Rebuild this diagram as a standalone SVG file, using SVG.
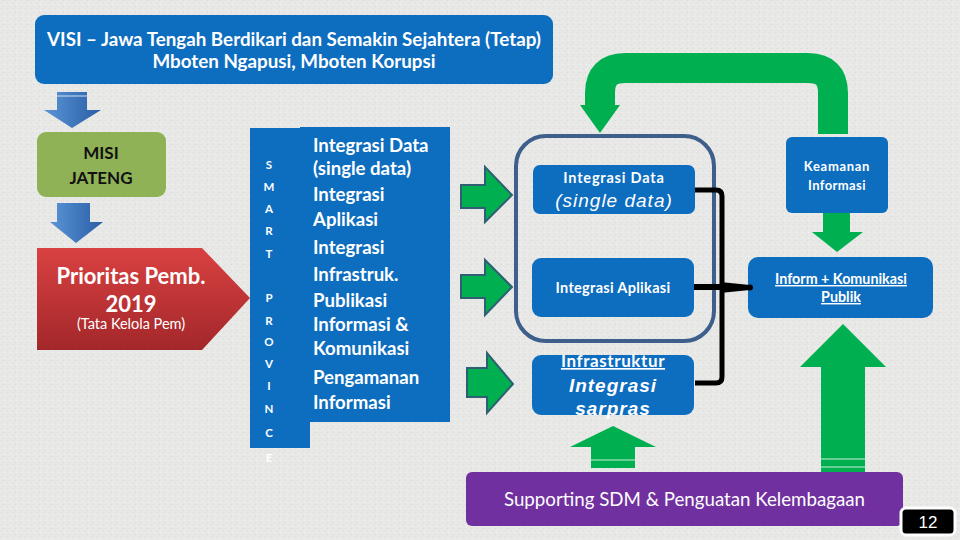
<svg xmlns="http://www.w3.org/2000/svg" width="960" height="540" viewBox="0 0 960 540">
<defs>
<linearGradient id="gBlueArrow" x1="0" y1="0" x2="1" y2="0">
<stop offset="0" stop-color="#5a95d6"/><stop offset="1" stop-color="#2a5ea6"/>
</linearGradient>
<linearGradient id="gRed" x1="0" y1="0" x2="0" y2="1">
<stop offset="0" stop-color="#d94141"/><stop offset="1" stop-color="#a3272a"/>
</linearGradient>
<pattern id="tex" width="6" height="6" patternUnits="userSpaceOnUse">
<rect width="6" height="6" fill="#e8e8e6"/>
<rect x="1" y="2" width="1" height="1" fill="#dcdcda"/>
<rect x="4" y="4" width="1" height="1" fill="#f3f3f1"/>
<rect x="3" y="0" width="1" height="1" fill="#d8d8d6"/>
</pattern>
<style>
.blue{fill:#0d6dbf}
.w{fill:#ffffff;font-family:Lato,"Liberation Sans",sans-serif}
.b{font-weight:bold}
.c{text-anchor:middle}
.green{fill:#00b050}
.garrow{fill:#00b050;stroke:#2f5f73;stroke-width:2}
.blk{fill:none;stroke:#000;stroke-width:5;stroke-linejoin:round}
.ai{fill:#fff;font-family:"Liberation Sans",Arial,sans-serif;font-style:italic;text-anchor:middle}
</style>
</defs>
<rect width="960" height="540" fill="url(#tex)"/>

<g id="visi">
<rect x="35" y="15" width="518" height="69" rx="9" class="blue"/>
<text x="294" y="46" class="w b c" font-size="18.8">VISI – Jawa Tengah Berdikari dan Semakin Sejahtera (Tetap)</text>
<text x="294" y="68" class="w b c" font-size="18.8">Mboten Ngapusi, Mboten Korupsi</text>
</g>

<g id="misi">
<rect x="37" y="132" width="129" height="65" rx="9" fill="#8fb256"/>
<text x="101" y="159" class="c b" font-family="Lato,'Liberation Sans',sans-serif" font-size="17" fill="#111">MISI</text>
<text x="101" y="184" class="c b" font-family="Lato,'Liberation Sans',sans-serif" font-size="17" fill="#111">JATENG</text>
</g>

<g id="prioritas">
<polygon points="37,248 202,248 250,298 202,350 37,350" fill="url(#gRed)"/>
<text x="131" y="284" class="w b c" font-size="22">Prioritas Pemb.</text>
<text x="131" y="312" class="w b c" font-size="22">2019</text>
<text x="131" y="329" class="w c" font-size="14.5">(Tata Kelola Pem)</text>
</g>

<g id="smart-province">
<rect x="250" y="128" width="60" height="320" class="blue"/>
<g class="w b c" font-size="11.5">
<text x="269" y="169">S</text>
<text x="269" y="191">M</text>
<text x="269" y="213">A</text>
<text x="269" y="235">R</text>
<text x="269" y="258">T</text>
<text x="269" y="302">P</text>
<text x="269" y="325">R</text>
<text x="269" y="346">O</text>
<text x="269" y="368">V</text>
<text x="269" y="390">I</text>
<text x="269" y="413">N</text>
<text x="269" y="437">C</text>
<text x="269" y="462">E</text>
</g>
</g>

<g id="program-list">
<rect x="300" y="127" width="150" height="295" class="blue"/>
<g class="w b" font-size="18.6">
<text x="313" y="152">Integrasi Data</text>
<text x="313" y="175">(single data)</text>
<text x="313" y="201">Integrasi</text>
<text x="313" y="226">Aplikasi</text>
<text x="313" y="254">Integrasi</text>
<text x="313" y="281">Infrastruk.</text>
<text x="313" y="307">Publikasi</text>
<text x="313" y="331">Informasi &amp;</text>
<text x="313" y="355">Komunikasi</text>
<text x="313" y="384">Pengamanan</text>
<text x="313" y="409">Informasi</text>
</g>
</g>

<g id="integrasi-group">
<rect x="516" y="136" width="198" height="205" rx="30" fill="none" stroke="#3e5f8c" stroke-width="4"/>
</g>

<g id="integrasi-data">
<rect x="533" y="165" width="162" height="49" rx="7" class="blue"/>
<text x="614" y="183" class="w b c" font-size="14.5" letter-spacing="0.8">Integrasi Data</text>
<text x="614" y="207" class="ai" font-size="19" letter-spacing="1">(single data)</text>
</g>

<g id="integrasi-aplikasi">
<rect x="532" y="258" width="162" height="59" rx="9" class="blue"/>
<text x="613" y="293" class="w b c" font-size="14.5" letter-spacing="0.3">Integrasi Aplikasi</text>
</g>

<g id="infrastruktur">
<rect x="532" y="355" width="162" height="60" rx="9" class="blue"/>
<text x="613" y="367" class="w b c" font-size="17" letter-spacing="0.6" text-decoration="underline">Infrastruktur</text>
<text x="613" y="392" class="ai" font-weight="bold" font-size="19" letter-spacing="1">Integrasi</text>
<text x="613" y="415" class="ai" font-weight="bold" font-size="19" letter-spacing="1">sarpras</text>
</g>

<g id="keamanan">
<rect x="786" y="137" width="102" height="76" rx="6" class="blue"/>
<text x="837" y="171" class="w b c" font-size="13" letter-spacing="0.7">Keamanan</text>
<text x="837" y="190" class="w b c" font-size="13" letter-spacing="0.4">Informasi</text>
</g>

<g id="inform-komunikasi">
<rect x="748" y="257" width="185" height="61" rx="10" class="blue"/>
<text x="841" y="284" class="w b c" font-size="14.3" text-decoration="underline">Inform + Komunikasi</text>
<text x="841" y="302" class="w b c" font-size="14.3" text-decoration="underline">Publik</text>
</g>

<g id="supporting">
<rect x="466" y="472" width="437" height="54" rx="6" fill="#7030a0"/>
<text x="504" y="506" class="w" font-size="18.7">Supporting SDM &amp; Penguatan Kelembagaan</text>
</g>

<g id="page-number">
<rect x="901" y="508" width="54" height="27" rx="5" fill="#000" stroke="#fff" stroke-width="3"/>
<text x="928" y="528" class="c" fill="#fff" font-family="'Liberation Sans',sans-serif" font-size="17">12</text>
</g>

<g id="connectors">
<polygon points="57,92 87,92 87,110 101,110 72,128 44,110 57,110" fill="url(#gBlueArrow)"/>
<line x1="57" y1="96" x2="87" y2="96" stroke="#cfe0f3" stroke-width="1"/>
<polygon points="57,203 90,203 90,222 103,222 76,243 50,222 57,222" fill="url(#gBlueArrow)"/>
<polygon points="461,185 485,185 485,167 512,195 485,222 485,208 461,208" class="garrow"/>
<polygon points="461,275 485,275 485,260 512,287 485,315 485,298 461,298" class="garrow"/>
<polygon points="467,368 487,368 487,353 513,384 487,413 487,397 467,397" class="garrow"/>
<path d="M833,134 V93 Q833,68 808,68 H625 Q600,68 600,93 V107" fill="none" stroke="#00b050" stroke-width="30"/>
<polygon points="580,105 620,105 600,133" class="green"/>
<polygon points="823,213 850,213 850,232 863,232 837,252 812,232 823,232" class="green"/>
<polygon points="843,324 886,367 865,367 865,472 821,472 821,367 800,367" class="green"/>
<line x1="821" y1="459" x2="865" y2="459" stroke="#c8f0d8" stroke-width="1.2"/>
<line x1="821" y1="467" x2="865" y2="467" stroke="#c8f0d8" stroke-width="1.2"/>
<polygon points="613,426 656,447 635,447 635,468 591,468 591,447 570,447" class="green"/>
<line x1="591" y1="460" x2="635" y2="460" stroke="#c8f0d8" stroke-width="1.2"/>
<path d="M695,190 H716 Q722,190 722,196 V377 Q722,383 716,383 H695" class="blk"/>
<line x1="694" y1="287" x2="725" y2="287" stroke="#000" stroke-width="6"/>
<polygon points="720,282 750,285 750,290 720,293" fill="#000"/>
<circle cx="750" cy="287.5" r="3" fill="#000"/>
</g>
</svg>
